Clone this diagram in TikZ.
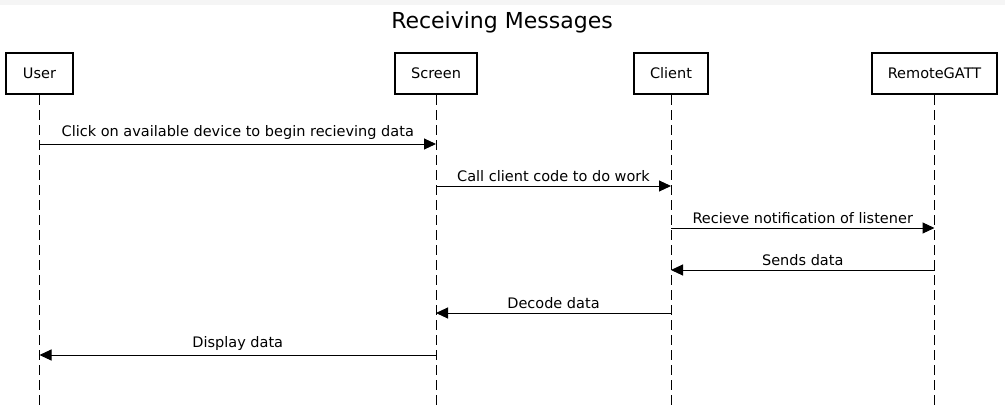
\documentclass[tikz,border=0pt]{standalone}
\usepackage{fontspec}
\setmainfont{DejaVu Sans}
\usetikzlibrary{arrows.meta}

\begin{document}
\begin{tikzpicture}[x=1pt,y=-1pt,>={Triangle[length=12pt,width=11pt]},
    actor node/.style={draw,line width=2pt,minimum width=67pt,minimum height=41pt,inner xsep=16pt,font=\fontsize{14.5}{17}\selectfont},
    life line/.style={dash pattern=on 10pt off 5pt,line width=1pt},
    msg/.style={->,line width=1pt},
    msg text/.style={font=\fontsize{14.5}{17}\selectfont,above,inner sep=4pt}]

\useasboundingbox (0,0) rectangle (1005,407);
\fill[gray!8] (0,0) rectangle (1005,5);

\node (title) at (502,22) {\fontsize{22}{26}\selectfont Receiving Messages};

% participants
\node[actor node] (user)   at (39.5,73.5) {User};
\node[actor node] (screen) at (436,73.5)  {Screen};
\node[actor node] (client) at (671,73.5)  {Client};
\node[actor node] (gatt)   at (934.5,73.5) {RemoteGATT};

% lifelines
\foreach \p in {user,screen,client,gatt}{
    \coordinate (\p end) at (\p |- 0,407);
    \draw[life line] (\p.south) -- (\p end);
}

% message rows
\coordinate (r1) at (0,144);
\coordinate (r2) at (0,186);
\coordinate (r3) at (0,228);
\coordinate (r4) at (0,270);
\coordinate (r5) at (0,313);
\coordinate (r6) at (0,355);

\path[msg]
(user |- r1)   edge node[msg text]{Click on available device to begin recieving data} (screen |- r1)
(screen |- r2) edge node[msg text]{Call client code to do work} (client |- r2)
(client |- r3) edge node[msg text]{Recieve notification of listener} (gatt |- r3)
(gatt |- r4)   edge node[msg text]{Sends data} (client |- r4)
(client |- r5) edge node[msg text]{Decode data} (screen |- r5)
(screen |- r6) edge node[msg text]{Display data} (user |- r6);
\end{tikzpicture}
\end{document}
